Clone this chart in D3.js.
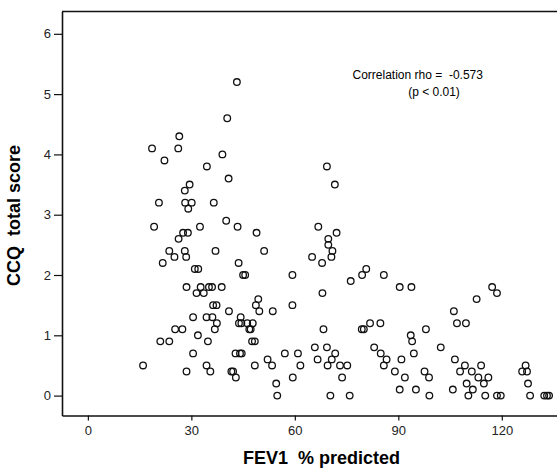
<!DOCTYPE html>
<html>
<head>
<meta charset="utf-8">
<script src="https://cdn.jsdelivr.net/npm/d3@7"></script>
<style>
  html, body { margin: 0; padding: 0; background: #fff; }
  svg { display: block; font-family: 'Liberation Sans', Arial, sans-serif; }
</style>
</head>
<body>
<div class="canvas"></div>
<script>
// values: FEV1 % predicted vs CCQ total score
const fev1 = [
  43.2, 40.4, 26.5, 18.6, 26.2, 39.0, 22.2, 34.5, 69.3, 40.8,
  71.6, 29.5, 28.1, 20.6, 28.2, 30.1, 36.5, 29.1, 40.1, 19.2,
  32.5, 43.4, 66.8, 27.6, 29.0, 48.9, 72.1, 26.3, 69.7, 69.7,
  23.6, 28.1, 37.0, 51.1, 70.9, 25.1, 28.5, 65.0, 70.6, 21.7,
  43.7, 67.9, 31.0, 32.0, 80.7, 45.0, 45.6, 59.3, 79.5, 85.8,
  76.2, 28.6, 32.7, 35.1, 36.0, 38.8, 90.4, 93.8, 117.2, 31.5,
  33.6, 68.0, 118.6, 49.4, 112.7, 36.3, 37.3, 48.7, 59.3, 40.9,
  49.7, 53.6, 106.1, 30.5, 34.4, 36.1, 44.3, 37.4, 43.8, 44.5,
  46.2, 47.8, 81.8, 84.8, 107.0, 109.6, 25.3, 27.4, 36.8, 46.8,
  47.2, 68.3, 79.4, 80.0, 98.0, 31.9, 93.6, 21.0, 23.6, 34.8,
  47.6, 48.4, 94.0, 65.8, 69.3, 83.0, 102.3, 30.5, 42.8, 44.1,
  44.6, 57.1, 60.9, 71.7, 84.9, 94.5, 52.1, 66.6, 70.7, 86.6,
  90.9, 106.4, 16.0, 34.4, 48.4, 53.4, 61.6, 69.5, 73.1, 75.2,
  85.8, 109.3, 114.0, 126.9, 28.6, 35.5, 41.6, 42.1, 89.0, 97.6,
  107.9, 111.3, 125.9, 127.3, 42.9, 59.4, 73.7, 91.9, 98.9, 113.2,
  116.1, 54.6, 109.8, 114.8, 127.6, 90.4, 95.1, 105.8, 111.6, 54.9,
  70.3, 75.9, 99.0, 110.3, 115.2, 118.6, 119.7, 128.2, 132.3, 133.1,
  133.7
]

const ccq = [
  5.2, 4.6, 4.3, 4.1, 4.1, 4.0, 3.9, 3.8, 3.8, 3.6,
  3.5, 3.5, 3.4, 3.2, 3.2, 3.2, 3.2, 3.1, 2.9, 2.8,
  2.8, 2.8, 2.8, 2.7, 2.7, 2.7, 2.7, 2.6, 2.6, 2.5,
  2.4, 2.4, 2.4, 2.4, 2.4, 2.3, 2.3, 2.3, 2.3, 2.2,
  2.2, 2.2, 2.1, 2.1, 2.1, 2.0, 2.0, 2.0, 2.0, 2.0,
  1.9, 1.8, 1.8, 1.8, 1.8, 1.8, 1.8, 1.8, 1.8, 1.7,
  1.7, 1.7, 1.7, 1.6, 1.6, 1.5, 1.5, 1.5, 1.5, 1.4,
  1.4, 1.4, 1.4, 1.3, 1.3, 1.3, 1.3, 1.2, 1.2, 1.2,
  1.2, 1.2, 1.2, 1.2, 1.2, 1.2, 1.1, 1.1, 1.1, 1.1,
  1.1, 1.1, 1.1, 1.1, 1.1, 1.0, 1.0, 0.9, 0.9, 0.9,
  0.9, 0.9, 0.9, 0.8, 0.8, 0.8, 0.8, 0.7, 0.7, 0.7,
  0.7, 0.7, 0.7, 0.7, 0.7, 0.7, 0.6, 0.6, 0.6, 0.6,
  0.6, 0.6, 0.5, 0.5, 0.5, 0.5, 0.5, 0.5, 0.5, 0.5,
  0.5, 0.5, 0.5, 0.5, 0.4, 0.4, 0.4, 0.4, 0.4, 0.4,
  0.4, 0.4, 0.4, 0.4, 0.3, 0.3, 0.3, 0.3, 0.3, 0.3,
  0.3, 0.2, 0.2, 0.2, 0.2, 0.1, 0.1, 0.1, 0.1, 0,
  0, 0, 0, 0, 0, 0, 0, 0, 0, 0,
  0
]

const xTicks = [0, 30, 60, 90, 120]
const yTicks = [0, 1, 2, 3, 4, 5, 6]
const xTitle = 'FEV1  % predicted'
const yTitle = 'CCQ  total score'
const noteLines = ['Correlation rho =  -0.573', '(p < 0.01)']

const size = {width: 557, height: 469}
const frame = {left: 62, top: 11.5, right: 557, bottom: 415.5}

const svg = d3.select('.canvas')
  .append('svg')
  .attr('width', size.width)
  .attr('height', size.height)

const scaleX = d3.scaleLinear()
  .domain([-7.5, 136])
  .range([frame.left, frame.right])

const scaleY = d3.scaleLinear()
  .domain([-0.33, 6.37])
  .range([frame.bottom, frame.top])

// axes
const xAxis = d3.axisBottom(scaleX)
  .tickValues(xTicks)
  .tickFormat(d3.format('d'))
  .tickSizeInner(5)
  .tickSizeOuter(0)
  .tickPadding(5)

const yAxis = d3.axisLeft(scaleY)
  .tickValues(yTicks)
  .tickFormat(d3.format('d'))
  .tickSizeInner(8)
  .tickSizeOuter(0)
  .tickPadding(3)

const xAxisGroup = svg.append('g')
  .attr('transform', `translate(0, ${frame.bottom})`)
  .call(xAxis)

const yAxisGroup = svg.append('g')
  .attr('transform', `translate(${frame.left}, 0)`)
  .call(yAxis)

;[xAxisGroup, yAxisGroup].forEach(group => {
  group.select('.domain').attr('stroke', '#111').attr('stroke-width', 1.6)
  group.selectAll('.tick line').attr('stroke', '#111').attr('stroke-width', 1.2)
  group.selectAll('.tick text')
    .attr('fill', '#222')
    .style('font-size', '13px')
    .style('font-family', "'Liberation Sans', Arial, sans-serif")
})

// top border of the frame
svg.append('line')
  .attr('x1', frame.left)
  .attr('x2', frame.right)
  .attr('y1', frame.top)
  .attr('y2', frame.top)
  .attr('stroke', '#111')
  .attr('stroke-width', 1.6)

// points
svg.append('g')
  .selectAll('circle')
  .data(d3.zip(fev1, ccq))
  .join('circle')
  .attr('cx', ([x]) => scaleX(x))
  .attr('cy', ([, y]) => scaleY(y))
  .attr('r', 3.3)
  .attr('fill', 'none')
  .attr('stroke', '#111')
  .attr('stroke-width', 1.3)

// axis titles
svg.append('text')
  .attr('x', 321.5)
  .attr('y', 464)
  .attr('text-anchor', 'middle')
  .style('font-size', '18px')
  .style('font-weight', 'bold')
  .style('white-space', 'pre')
  .text(xTitle)

svg.append('text')
  .attr('transform', 'translate(19.5, 215.5) rotate(-90)')
  .attr('text-anchor', 'middle')
  .style('font-size', '18px')
  .style('font-weight', 'bold')
  .style('white-space', 'pre')
  .text(yTitle)

// correlation note
svg.append('text')
  .attr('x', 352.5)
  .attr('y', 78.5)
  .style('font-size', '12px')
  .style('white-space', 'pre')
  .text(noteLines[0])

svg.append('text')
  .attr('x', 434)
  .attr('y', 96)
  .attr('text-anchor', 'middle')
  .style('font-size', '12px')
  .text(noteLines[1])
</script>
</body>
</html>
